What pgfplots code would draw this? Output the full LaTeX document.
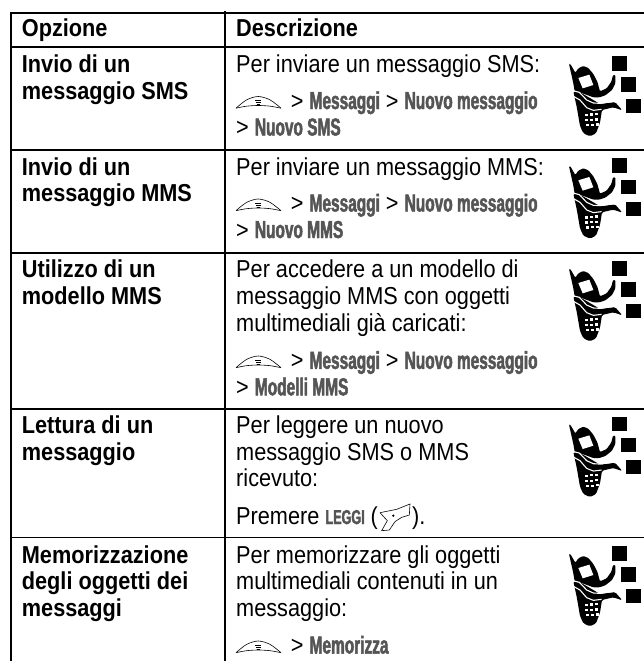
\documentclass[border=0pt]{standalone}
\usepackage{fontspec}
\usepackage{pgfplots}
\pgfplotsset{compat=1.18}
\setmainfont[FakeStretch=0.886]{Liberation Sans}
\newfontfamily\mifont[FakeStretch=0.63,FakeBold=2]{Liberation Sans}
\definecolor{mi}{HTML}{555555}
\newcommand{\mi}[1]{{\mifont\bfseries\color{mi}#1}}
\newcommand{\txt}[3]{\node[anchor=base west,inner sep=0pt] at (axis cs:#1,#2) {#3};}
\pgfplotsset{
  tl/.style={black,line width=1.6bp,forget plot},
  ph/.style={x filter/.expression={560+x/3},y filter/.expression={50+y/3+#1},forget plot},
  ln/.style={x filter/.expression={220+x/3},y filter/.expression={240+y/3+#1},forget plot},
}
\newcommand{\phone}[1]{%
  % squares
  \addplot[ph=#1,fill=black,draw=none] coordinates {(155,18)(200,18)(200,62)(155,62)} --cycle;
  \addplot[ph=#1,fill=black,draw=none] coordinates {(184,82)(229,82)(229,125)(184,125)} --cycle;
  \addplot[ph=#1,fill=black,draw=none] coordinates {(199,148)(244,148)(244,190)(199,190)} --cycle;
  % flip and arm
  \addplot[ph=#1,fill=black,draw=none,rounded corners=1bp] coordinates {(27,42)(31,42)(46,68)(55,55)(70,48)(85,54)(100,72)(112,95)(120,124)(140,115)(154,95)(159,75)(166,75)(166,100)(156,120)(136,136)(118,142)(100,142)(62,128)(44,124)(40,100)} --cycle;
  % body and tail
  \addplot[ph=#1,fill=black,draw=none,rounded corners=1.5bp] coordinates {(40,124)(50,170)(60,228)(70,250)(90,259)(108,250)(120,218)(126,180)(160,172)(187,181)(165,156)(120,162)(100,150)(62,128)} --cycle;
  % window
  \addplot[ph=#1,fill=white,draw=none] coordinates {(55,84)(88,74)(100,105)(68,115)} --cycle;
  % white lines
  \addplot[ph=#1,white,line width=1.1bp] coordinates {(38,122)(58,127)(80,150)(100,159)(120,160)(165,154)};
  \addplot[ph=#1,white,line width=1.1bp] coordinates {(42,140)(60,150)(80,173)(100,181)(125,178)};
  % keypad
  \addplot[ph=#1,only marks,mark=square*,mark size=1bp,white,mark options={draw=none,fill=white,yscale=0.65}] coordinates {(78,195)(93,193)(108,192)(80,210)(95,209)(110,208)(83,225)(97,224)(111,223)};
}
\newcommand{\lens}[1]{%
  \addplot[ln=#1,black,line width=0.6bp,smooth,tension=0.5] coordinates {(48,383)(80,358)(115,348)(150,358)(183,383)};
  \addplot[ln=#1,black,line width=0.6bp,smooth,tension=0.5] coordinates {(48,383)(80,377)(115,375)(150,377)(183,383)};
  \addplot[ln=#1,black,line width=0.9bp] coordinates {(106,361)(124,361)};
  \addplot[ln=#1,black,line width=0.9bp] coordinates {(108,367)(122,367)};
  \addplot[ln=#1,black,line width=0.9bp] coordinates {(110,373)(120,373)};
}
\begin{document}
\fontsize{24.5bp}{26bp}\selectfont
\begin{tikzpicture}
\useasboundingbox (0,0) rectangle (644bp,661bp);
\begin{axis}[
  at={(0,0)},anchor=south west,
  scale only axis,width=644bp,height=661bp,
  xmin=0,xmax=644,ymin=0,ymax=661,y dir=reverse,
  hide axis,clip=false]
% table rules
\addplot[tl] coordinates {(10.2,13)(644,13)};
\addplot[tl] coordinates {(11,13)(11,661)};
\addplot[tl] coordinates {(225,11)(225,661)};
\addplot[tl] coordinates {(11,47)(644,47)};
\addplot[tl] coordinates {(11,150)(644,150)};
\addplot[tl] coordinates {(11,252.7)(644,252.7)};
\addplot[tl] coordinates {(11,409)(644,409)};
\addplot[tl] coordinates {(11,537.5)(644,537.5)};
% left column
\txt{21.7}{36.7}{\bfseries Opzione}
\txt{21.7}{72.7}{\bfseries Invio di un}
\txt{21.7}{99.3}{\bfseries messaggio SMS}
\txt{21.7}{175.3}{\bfseries Invio di un}
\txt{21.7}{201}{\bfseries messaggio MMS}
\txt{21.7}{277.7}{\bfseries Utilizzo di un}
\txt{21.7}{304.3}{\bfseries modello MMS}
\txt{21.7}{433.3}{\bfseries Lettura di un}
\txt{21.7}{460}{\bfseries messaggio}
\txt{21.7}{563.7}{\bfseries Memorizzazione}
\txt{21.7}{589.3}{\bfseries degli oggetti dei}
\txt{21.7}{616}{\bfseries messaggi}
% right column
\txt{236}{36.7}{\bfseries Descrizione}
\txt{236}{72.7}{Per inviare un messaggio SMS:}
\txt{290.7}{109}{> \mi{Messaggi} > \mi{Nuovo messaggio}}
\txt{236}{135.5}{> \mi{Nuovo SMS}}
\txt{236}{175.3}{Per inviare un messaggio MMS:}
\txt{290.7}{211.5}{> \mi{Messaggi} > \mi{Nuovo messaggio}}
\txt{236}{238}{> \mi{Nuovo MMS}}
\txt{236}{277.7}{Per accedere a un modello di}
\txt{236}{304.3}{messaggio MMS con oggetti}
\txt{236}{331}{multimediali già caricati:}
\txt{290.7}{368.8}{> \mi{Messaggi} > \mi{Nuovo messaggio}}
\txt{236}{395.3}{> \mi{Modelli MMS}}
\txt{236}{433.3}{Per leggere un nuovo}
\txt{236}{460}{messaggio SMS o MMS}
\txt{236}{486.7}{ricevuto:}
\txt{236}{524}{Premere \mi{\fontsize{20bp}{24bp}\selectfont LEGGI} (}
\txt{412}{524}{).}
\txt{236}{563.7}{Per memorizzare gli oggetti}
\txt{236}{589.3}{multimediali contenuti in un}
\txt{236}{616}{messaggio:}
\txt{290.7}{653.5}{> \mi{Memorizza}}
% menu key icons
\lens{-259.5}
\lens{-157}
\lens{0}
\lens{285}
% soft key icon
\addplot[x filter/.expression={340+x/3},y filter/.expression={500+y/3},black,line width=0.6bp,forget plot] coordinates {(120,38)(170,28)(210,12)(208,45)(185,52)(165,65)(148,90)(125,92)(142,62)(120,38)};
\addplot[x filter/.expression={340+x/3},y filter/.expression={500+y/3},only marks,mark=*,mark size=0.9bp,black,forget plot] coordinates {(160,47)};
% phones
\phone{0}
\phone{102.3}
\phone{205}
\phone{360.7}
\phone{490}
\end{axis}
\end{tikzpicture}
\end{document}
